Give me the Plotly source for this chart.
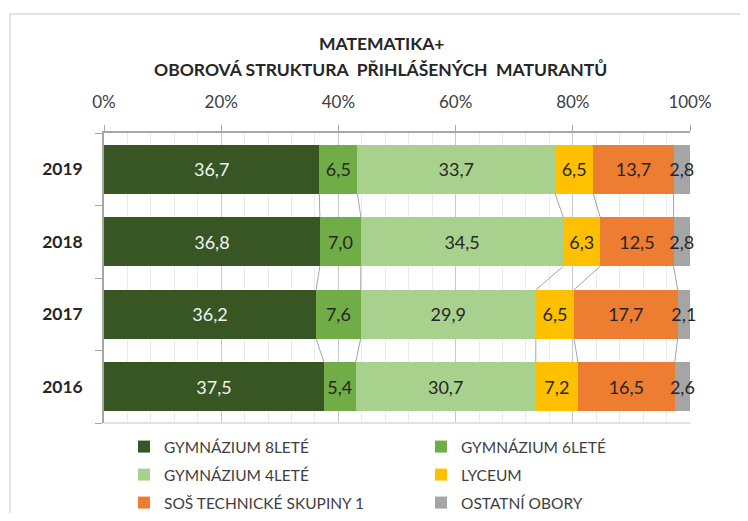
import plotly.graph_objects as go

# ---- data ----
years = ["2016", "2017", "2018", "2019"]
series_names = ["GYMNÁZIUM 8LETÉ", "GYMNÁZIUM 6LETÉ", "GYMNÁZIUM 4LETÉ",
                "LYCEUM", "SOŠ TECHNICKÉ SKUPINY 1", "OSTATNÍ OBORY"]
gym8 = [37.5, 36.2, 36.8, 36.7]
gym6 = [5.4, 7.6, 7.0, 6.5]
gym4 = [30.7, 29.9, 34.5, 33.7]
lyceum = [7.2, 6.5, 6.3, 6.5]
sos_tech = [16.5, 17.7, 12.5, 13.7]
ostatni = [2.6, 2.1, 2.8, 2.8]
x_tick_labels = ["0%", "20%", "40%", "60%", "80%", "100%"]
title_lines = ["MATEMATIKA+", "OBOROVÁ STRUKTURA\u00a0\u00a0PŘIHLÁŠENÝCH\u00a0\u00a0MATURANTŮ"]

series_values = [gym8, gym6, gym4, lyceum, sos_tech, ostatni]
colors = ["#375623", "#70AD47", "#A9D18E", "#FFC000", "#ED7D31", "#A5A5A5"]
text_colors = ["#F2F2F2", "#262626", "#262626", "#262626", "#262626", "#262626"]

OFF = 8  # page body margin
W, H = 748 - 2 * OFF, 521 - 2 * OFF
# plot area in screen pixels
SL, SR, ST, SB = 104, 690, 133, 423
L, R, T, B = SL - OFF, SR - OFF, ST - OFF, SB - OFF
bar_width = 0.676
FONT = "Lato"

def px_x(s):
    return (s - OFF - L) / (R - L)

def px_y(s):
    return (B - (s - OFF)) / (B - T)

ypos = list(range(len(years)))

fig = go.Figure()

# normalized cumulative values (100% stacked)
totals = [sum(s[i] for s in series_values) for i in range(len(years))]
cum = []
for i in range(len(years)):
    c, row = 0.0, []
    for s in series_values:
        c += s[i] / totals[i] * 100
        row.append(c)
    cum.append(row)

# series lines between bars
lx, ly = [], []
for k in range(len(series_values) - 1):
    for i in range(len(years) - 1):
        lx += [cum[i][k], cum[i + 1][k], None]
        ly += [i + bar_width / 2, i + 1 - bar_width / 2, None]
fig.add_trace(go.Scatter(x=lx, y=ly, mode="lines", line=dict(color="#A6A6A6", width=1),
                         showlegend=False, hoverinfo="skip"))

legend_ids = ["legend", "legend2", "legend3", "legend4", "legend5", "legend6"]
for k, (name, vals) in enumerate(zip(series_names, series_values)):
    fig.add_trace(go.Bar(
        y=ypos, x=vals, name=name, orientation="h",
        marker=dict(color=colors[k], line=dict(width=0)),
        width=bar_width,
        text=[f"{v:.1f}".replace(".", ",") for v in vals],
        textposition="inside", insidetextanchor="middle", textangle=0,
        constraintext="none", cliponaxis=False,
        textfont=dict(family=FONT, size=18, color=text_colors[k]),
        legend=legend_ids[k],
    ))

legend_common = dict(orientation="v", xanchor="left", yanchor="middle",
                     font=dict(family=FONT, size=15.5, color="#404040"),
                     itemwidth=30, bgcolor="rgba(0,0,0,0)", borderwidth=0)
col_x = [124, 421]
row_y = [447, 475, 503]
legend_layout = {}
for k, lid in enumerate(legend_ids):
    legend_layout[lid] = dict(x=px_x(col_x[k % 2]), y=px_y(row_y[k // 2]), **legend_common)

fig.update_layout(
    width=W, height=H,
    margin=dict(l=L, r=W - R, t=T, b=H - B, pad=0, autoexpand=False),
    paper_bgcolor="white", plot_bgcolor="white",
    barmode="stack", barnorm="percent",
    font=dict(family=FONT, color="#404040"),
    showlegend=True,
    xaxis=dict(
        side="top", range=[0, 100], tickvals=[0, 20, 40, 60, 80, 100],
        ticktext=x_tick_labels, ticks="outside", ticklen=6, tickcolor="#A6A6A6",
        tickfont=dict(family=FONT, size=17, color="#404040"),
        ticklabelstandoff=10,
        showgrid=True, gridcolor="#C8C8C8", gridwidth=1,
        minor=dict(dtick=4, tick0=0, showgrid=True, gridcolor="#EBEBEB", gridwidth=1),
        showline=True, linecolor="#A6A6A6", linewidth=1.5,
        zeroline=False, fixedrange=True,
    ),
    yaxis=dict(
        range=[-0.5, len(years) - 0.5], tickvals=ypos, ticktext=years,
        ticks="", tickfont=dict(family=FONT, size=17.5, color="#262626", weight="bold"),
        ticklabelstandoff=16,
        minor=dict(tickvals=[i - 0.5 for i in range(len(years) + 1)], ticks="outside",
                   ticklen=7, tickcolor="#A6A6A6", showgrid=False),
        showgrid=False, showline=True, linecolor="#A6A6A6", linewidth=1.5,
        zeroline=False, fixedrange=True,
    ),
    shapes=[
        dict(type="rect", xref="paper", yref="paper", x0=px_x(10), y0=px_y(540),
             x1=px_x(770), y1=px_y(14), line=dict(color="#D9D9D9", width=1.5),
             fillcolor="rgba(0,0,0,0)", layer="below"),
        dict(type="line", xref="paper", yref="paper", x0=0, x1=1, y0=0, y1=0,
             line=dict(color="#D9D9D9", width=1.5)),
    ],
    annotations=[
        dict(text=f"<b>{title_lines[0]}</b>", xref="paper", yref="paper",
             x=px_x(381), y=px_y(44), showarrow=False, xanchor="center", yanchor="middle",
             font=dict(family=FONT, size=17.5, color="#262626")),
        dict(text=f"<b>{title_lines[1]}</b>", xref="paper", yref="paper",
             x=px_x(380), y=px_y(70), showarrow=False, xanchor="center", yanchor="middle",
             font=dict(family=FONT, size=17.5, color="#262626")),
    ],
    **legend_layout,
)

fig.write_html("out.html")
